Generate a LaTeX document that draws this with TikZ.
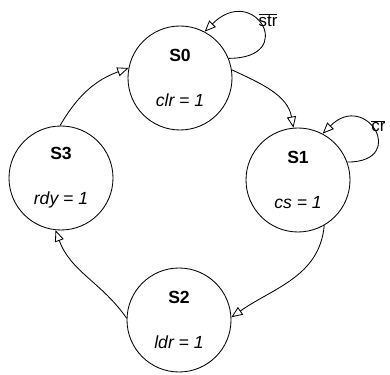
\documentclass[tikz,border=0pt]{standalone}
\usepackage{fontspec}
\setmainfont{Liberation Sans}
\usetikzlibrary{arrows.meta, positioning}

\tikzset{
    state/.style={circle, draw, minimum size=26mm, inner sep=0pt, align=center,
        font=\fontsize{12.5}{14}\selectfont},
}

\begin{document}
\begin{tikzpicture}[>={Triangle[open, length=8pt, width=6.5pt]}, x=0.25mm, y=0.25mm, line width=0.6pt]
    \useasboundingbox (0,0) rectangle (390,375);
    % Các trạng thái
    \node[state] (s0) at (180,297) {\textbf{S0}\\[18.2pt]\textit{clr = 1}};
    \node[state] (s1) at (298,195) {\textbf{S1}\\[18.2pt]\textit{cs = 1}};
    \node[state] (s2) at (179,55) {\textbf{S2}\\[18.2pt]\textit{ldr = 1}};
    \node[state] (s3) at (61,197) {\textbf{S3}\\[18.2pt]\textit{rdy = 1}};

    % Các chuyển trạng thái
    \draw[->] (s0.9) to[out=-25, in=100] (s1.95);
    \draw[->] (s1.-60) to[out=-95, in=35] (s2.3);
    \draw[->] (s2.178) to[out=125, in=-70] (s3.-96);
    \draw[->] (s3.91) to[out=60, in=200] (s0.169);

    % Vòng lặp
    \draw[->] (s0.22) to[out=0, in=45, looseness=5] (s0.62);
    \draw[->] (s1.20) to[out=0, in=45, looseness=4.2] (s1.62);
    \node[font=\fontsize{12}{14}\selectfont] (lstr) at (268,355) {$\overline{\mbox{str}}$};
    \node[font=\fontsize{12}{14}\selectfont, anchor=west, inner sep=0pt] (lcr) at (371,249) {$\overline{\mbox{cr}}$};
\end{tikzpicture}
\end{document}
